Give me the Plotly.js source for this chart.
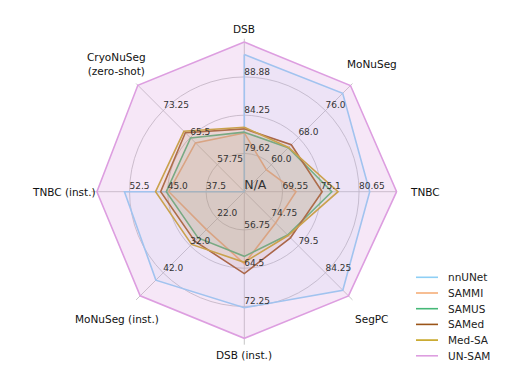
<!DOCTYPE html>
<html>
<head>
<meta charset="utf-8">
<script src="https://cdn.plot.ly/plotly-3.0.1.min.js"></script>
<style>html,body{margin:0;padding:0;background:#fff;}#chart{width:514px;height:370px;}</style>
</head>
<body>
<div id="chart"></div>
<script>
// ---- data ----
var axisNames = ["DSB", "MoNuSeg", "TNBC", "SegPC", "DSB (inst.)", "MoNuSeg (inst.)", "TNBC (inst.)", "CryoNuSeg<br>(zero-shot)"];
var axisMin = [74.99, 52.0, 64.0, 70.0, 49.0, 12.0, 30.0, 50.0];
var axisMax = [93.51, 84.0, 86.2, 89.0, 80.0, 52.0, 60.0, 81.0];
var tickLabels = [
  ["79.62", "84.25", "88.88"],
  ["60.0", "68.0", "76.0"],
  ["69.55", "75.1", "80.65"],
  ["74.75", "79.5", "84.25"],
  ["56.75", "64.5", "72.25"],
  ["22.0", "32.0", "42.0"],
  ["37.5", "45.0", "52.5"],
  ["57.75", "65.5", "73.25"]
];
var centerLabel = "N/A";
var seriesNames = ["nnUNet", "SAMMI", "SAMUS", "SAMed", "Med-SA", "UN-SAM"];
var nnUNet = [91.6, 81.1, 82.2, 87.3, 72.5, 44.7, 53.5, null];   // null = N/A (zero-shot)
var SAMMI  = [82.1, 58.5, 71.5, 75.5, 63.6, 26.0, 44.8, 64.0];
var SAMUS  = [82.2, 65.0, 76.7, 77.6, 62.1, 29.1, 45.3, 65.4];
var SAMed  = [82.6, 65.9, 75.3, 78.1, 65.6, 30.3, 46.4, 66.9];
var MedSA  = [82.8, 65.1, 77.6, 77.7, 63.3, 31.5, 47.4, 67.3];
var UNSAM  = [93.1, 83.4, 86.1, 88.3, 78.7, 50.5, 58.9, 80.5];

// ---- styles / geometry ----
var W = 514, H = 370;
var colors = ["#8ecff5", "#f5ae78", "#45b877", "#9a5418", "#c4a21c", "#dd9ee0"];
var fillAlpha = [0.1, 0.1, 0.1, 0.1, 0.1, 0.25];
var RMAX = 4;
var dom = {x: [0.1776, 0.7730], y: [0.0684, 0.8954]};
var nAx = axisNames.length;
var angles = axisNames.map(function(_, i){ return i * 360 / nAx; });

function norm(v, i){
  if (v === null) return 0;
  return RMAX * (v - axisMin[i]) / (axisMax[i] - axisMin[i]);
}
function hexA(h, a){
  var n = parseInt(h.slice(1), 16);
  return "rgba(" + ((n >> 16) & 255) + "," + ((n >> 8) & 255) + "," + (n & 255) + "," + a + ")";
}

var seriesData = [nnUNet, SAMMI, SAMUS, SAMed, MedSA, UNSAM];
var traces = [];
seriesData.forEach(function(vals, k){
  var r = vals.map(norm);
  var th = angles.slice();
  r.push(r[0]); th.push(th[0]);
  var c = colors[k];
  traces.push({
    type: "scatterpolar", mode: "lines", r: r, theta: th,
    name: seriesNames[k], fill: "toself",
    fillcolor: hexA(c, fillAlpha[k]), showlegend: false,
    line: {color: c, width: 1.6}, hoverinfo: "skip"
  });
});

// ring tick labels
var tr = [], tt = [], tx = [];
tickLabels.forEach(function(labs, i){
  labs.forEach(function(l){
    tr.push(norm(parseFloat(l), i)); tt.push(angles[i]); tx.push(l);
  });
});
tr.push(0); tt.push(0); tx.push(centerLabel);
var sizes = tx.map(function(t){ return t === centerLabel ? 12.5 : 9; });
traces.push({
  type: "scatterpolar", mode: "text", r: tr, theta: tt, text: tx,
  textposition: "top right", showlegend: false, hoverinfo: "skip",
  cliponaxis: false,
  textfont: {family: "DejaVu Sans", size: sizes, color: "#333"}
});

// axis name labels as annotations around the polar area
var cx = (dom.x[0] + dom.x[1]) / 2, cy = (dom.y[0] + dom.y[1]) / 2;
var Rpx = (dom.x[1] - dom.x[0]) * W / 2;
var annotations = axisNames.map(function(name, i){
  var a = angles[i] * Math.PI / 180;
  var rr = Rpx * ((angles[i] % 180 === 0) ? 1.065 : 1.18);
  return {
    xref: "paper", yref: "paper", showarrow: false,
    x: cx + rr * Math.sin(a) / W, y: cy + rr * Math.cos(a) / H,
    xanchor: "center", yanchor: "middle", text: name,
    font: {family: "DejaVu Sans", size: 10.5, color: "#111"}
  };
});

// legend (drawn as shapes + text)
var shapes = [];
var legX0 = 416 / W, legX1 = 438 / W, legTx = 446 / W;
seriesNames.forEach(function(nm, k){
  var yy = 1 - (277.3 + k * 15.7) / H;
  shapes.push({type: "line", xref: "paper", yref: "paper", x0: legX0, x1: legX1, y0: yy, y1: yy,
               line: {color: colors[k], width: 1.6}});
  annotations.push({xref: "paper", yref: "paper", showarrow: false, x: legTx, y: yy,
                    xanchor: "left", yanchor: "middle", text: nm,
                    font: {family: "DejaVu Sans", size: 10.5, color: "#222"}});
});

var layout = {
  width: W, height: H,
  margin: {l: 0, r: 0, t: 0, b: 0, autoexpand: false},
  paper_bgcolor: "#fff",
  showlegend: false,
  annotations: annotations,
  shapes: shapes,
  polar: {
    domain: dom,
    bgcolor: "rgba(0,0,0,0)",
    radialaxis: {
      range: [0, RMAX], tickvals: [1, 2, 3], showticklabels: false,
      ticks: "", showline: false, gridcolor: "#b8b8b8", gridwidth: 0.8
    },
    angularaxis: {
      direction: "clockwise", rotation: 90, thetaunit: "degrees",
      tickvals: angles, showticklabels: false, ticks: "",
      showline: false, gridcolor: "#b8b8b8", gridwidth: 0.8
    }
  },
  font: {family: "DejaVu Sans"}
};

Plotly.newPlot("chart", traces, layout, {displayModeBar: false, staticPlot: true});
</script>
</body>
</html>
